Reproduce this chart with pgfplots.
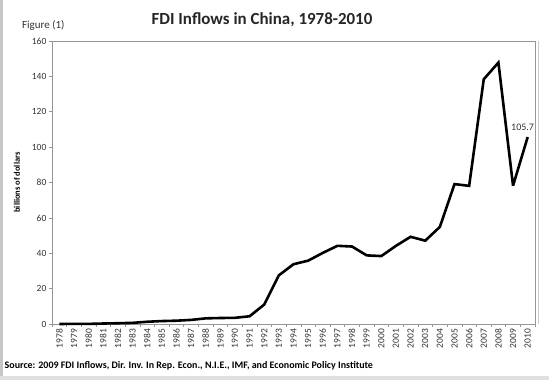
\documentclass[border=0pt]{standalone}
\usepackage{pgfplots}
\pgfplotsset{compat=1.18}
\usepackage{fontspec}
\setmainfont{Carlito}
\definecolor{axgray}{RGB}{150,150,150}
\definecolor{txtgray}{RGB}{50,50,50}
\begin{document}
\begin{tikzpicture}
\path[use as bounding box] (0bp,0bp) rectangle (549bp,380bp);
\fill[white] (0bp,0bp) rectangle (549bp,380bp);
\fill[black!22] (0bp,0bp) rectangle (2.5bp,380bp);
\fill[black!12] (0bp,0bp) rectangle (549bp,4bp);
\draw[black!20, line width=0.8bp] (538.5bp,56bp) -- (538.5bp,339bp);
\node[font=\fontsize{17}{19}\selectfont\bfseries, text=black!85] at (262bp,360bp) {FDI Inflows in China, 1978-2010};
\node[font=\fontsize{11}{12}\selectfont, text=txtgray, anchor=west, inner sep=0pt] at (22bp,355bp) {Figure (1)};
\node[font=\fontsize{10}{12}\selectfont\bfseries, anchor=west, inner sep=0pt] at (4.5bp,14bp) {Source: 2009 FDI Inflows, Dir. Inv. In Rep. Econ., N.I.E., IMF, and Economic Policy Institute};
\begin{axis}[
  at={(52bp,56bp)}, anchor=south west,
  scale only axis, width=483bp, height=283bp,
  xmin=1977.5, xmax=2010.5, ymin=0, ymax=160,
  ytick={0,20,...,160},
  xtick={1978,...,2010},
  minor xtick={1977.5,1978.5,...,2010.5},
  axis line style={axgray, line width=0.6bp},
  every tick/.style={axgray, line width=0.5bp},
  tick align=outside,
  major tick length=3bp, minor tick length=3bp,
  x tick style={draw=none},
  minor x tick style={draw=axgray},
  xtick pos=bottom, ytick pos=left,
  /pgf/number format/assume math mode=true,
  /pgf/number format/set thousands separator={},
  x tick label style={rotate=90, anchor=east, font=\fontsize{9.5}{10}\selectfont, text=txtgray, inner sep=2bp},
  y tick label style={font=\fontsize{9.5}{10}\selectfont, text=txtgray, inner sep=2.5bp},
  ylabel={billions of dollars},
  ylabel style={font=\fontsize{8.5}{10}\selectfont\bfseries, at={(axis description cs:0,0.5)}, anchor=center, rotate=0},
  every axis y label/.append style={yshift=35bp},
  clip=false,
]
\addplot[black, line width=2.6bp, line join=miter, miter limit=4] coordinates {
(1978,0) (1979,0.08) (1980,0.06) (1981,0.27) (1982,0.43) (1983,0.64) (1984,1.26) (1985,1.66) (1986,1.87) (1987,2.31) (1988,3.19) (1989,3.39) (1990,3.49) (1991,4.37) (1992,11.0) (1993,27.5) (1994,33.8) (1995,35.8) (1996,40.2) (1997,44.2) (1998,43.8) (1999,38.8) (2000,38.4) (2001,44.2) (2002,49.3) (2003,47.1) (2004,54.9) (2005,79.1) (2006,78.1) (2007,138.4) (2008,147.8) (2009,78.2) (2010,105.7)
};
\node[font=\fontsize{10}{11}\selectfont, text=txtgray, anchor=south, inner sep=0pt] at (axis cs:2009.65,109.5) {105.7};
\end{axis}
\end{tikzpicture}
\end{document}
